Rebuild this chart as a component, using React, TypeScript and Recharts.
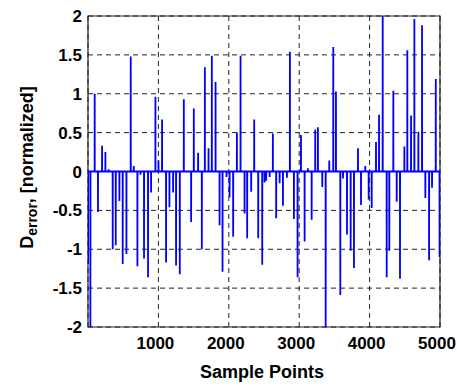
import { LineChart, Line, XAxis, YAxis, CartesianGrid, ReferenceArea } from 'recharts';

// sample index of each error spike and its normalized value (rest of the signal is 0)
const spikeSamples = [
  1, 34, 95, 142, 200, 247, 294, 351, 394, 446, 493, 546, 607, 650, 702, 745, 796, 853, 896, 958,
  1001, 1052, 1109, 1157, 1209, 1251, 1304, 1361, 1465, 1503, 1564, 1617, 1660, 1712, 1759, 1812, 1869, 1911, 1968,
  2011, 2062, 2115, 2167, 2224, 2261, 2318, 2361, 2418, 2475, 2508, 2531, 2580, 2626, 2673, 2722, 2769, 2826, 2868, 2925, 2977,
  3025, 3077, 3124, 3177, 3228, 3266, 3328, 3376, 3427, 3484, 3522, 3584, 3622, 3679, 3731, 3778, 3835, 3878, 3939, 3987,
  4030, 4091, 4134, 4186, 4243, 4280, 4337, 4385, 4432, 4494, 4536, 4589, 4636, 4693, 4745, 4792, 4845, 4887, 4940, 4994,
];
const spikeValues = [
  -1.19, -2.3, 1.0, -0.52, 0.33, 0.25, 0.03, -1.0, -0.95, -0.38, -1.19, -1.06, 1.48, 0.07, -1.22, -0.04, -1.12, -1.36, -0.27, 0.96,
  0.14, 0.67, -1.17, -0.46, -0.27, -1.21, -1.32, 0.93, -0.65, 0.81, 0.24, -1.0, 1.34, 0.3, 1.49, 1.15, -0.69, -1.29, -0.07,
  -0.33, -0.84, 0.5, 1.49, -0.54, -0.86, -0.26, 0.67, -0.86, -1.2, -0.14, -0.12, -0.07, 0.49, -0.6, -0.15, -0.44, -0.08, 1.54, -0.61, -1.36,
  0.47, -0.9, 0.04, -0.62, 0.54, 0.57, -0.2, -2.3, 0.14, 1.6, 1.03, -1.59, -0.09, -0.81, -1.02, -1.24, 0.3, -0.43, 0.07, -0.36,
  -0.47, 0.38, 0.73, 2.3, -1.36, -1.02, 1.04, -0.39, -1.38, 0.32, 1.56, 0.72, 1.96, 0.51, 1.88, -0.34, -1.14, -0.21, 1.19, -1.1,
];
const xTicks = [1000, 2000, 3000, 4000, 5000];
const yTicks = [-2, -1.5, -1, -0.5, 0, 0.5, 1, 1.5, 2];

// each spike goes 0 -> value -> 0 over neighbouring samples
const data = spikeSamples.flatMap((s, i) => [
  { x: s - 1, y: 0 },
  { x: s, y: spikeValues[i] },
  { x: s + 1, y: 0 },
]);

const font = '"Liberation Sans", Arial, sans-serif';
const tickStyle = { fontSize: 17, fontWeight: 'bold', fill: '#000', fontFamily: font };

function YLabel(props: any) {
  const vb = props.viewBox || { x: 0, y: 16, width: 88, height: 311 };
  const cy = vb.y + vb.height / 2 - 4;
  return (
    <text
      transform={`translate(33, ${cy}) rotate(-90)`}
      textAnchor="middle"
      fontFamily={font}
      fontWeight="bold"
      fontSize={18}
      fill="#000"
    >
      <tspan>D</tspan>
      <tspan fontSize={14} dy={4}>error</tspan>
      <tspan dy={-4}>, [normalized]</tspan>
    </text>
  );
}

function XLabel(props: any) {
  const vb = props.viewBox || { x: 88, y: 327, width: 352, height: 60 };
  return (
    <text
      x={vb.x + vb.width / 2 - 2}
      y={vb.y + 51}
      textAnchor="middle"
      fontFamily={font}
      fontWeight="bold"
      fontSize={18}
      fill="#000"
    >
      Sample Points
    </text>
  );
}

export default function App() {
  return (
    <div style={{ position: 'absolute', left: 0, top: 0, width: 457, height: 387, background: '#fff' }}>
      <LineChart width={457} height={387} data={data} margin={{ top: 16, right: 17, left: 0, bottom: 0 }}>
        <CartesianGrid stroke="#222" strokeDasharray="5 4" />
        <XAxis
          dataKey="x"
          type="number"
          domain={[0, 5000]}
          ticks={xTicks}
          allowDataOverflow
          axisLine={false}
          tickLine={false}
          tickMargin={4}
          height={60}
          tick={tickStyle}
          dx={-3}
          label={<XLabel />}
        />
        <YAxis
          type="number"
          domain={[-2, 2]}
          ticks={yTicks}
          allowDataOverflow
          axisLine={false}
          tickLine={false}
          tickMargin={0}
          width={88}
          tick={tickStyle}
          label={<YLabel />}
        />
        <Line
          type="linear"
          dataKey="y"
          stroke="#0000ff"
          strokeWidth={1.8}
          dot={false}
          isAnimationActive={false}
        />
        <ReferenceArea x1={0} x2={5000} y1={-2} y2={2} fill="none" stroke="#222" strokeWidth={1.2} />
      </LineChart>
    </div>
  );
}
